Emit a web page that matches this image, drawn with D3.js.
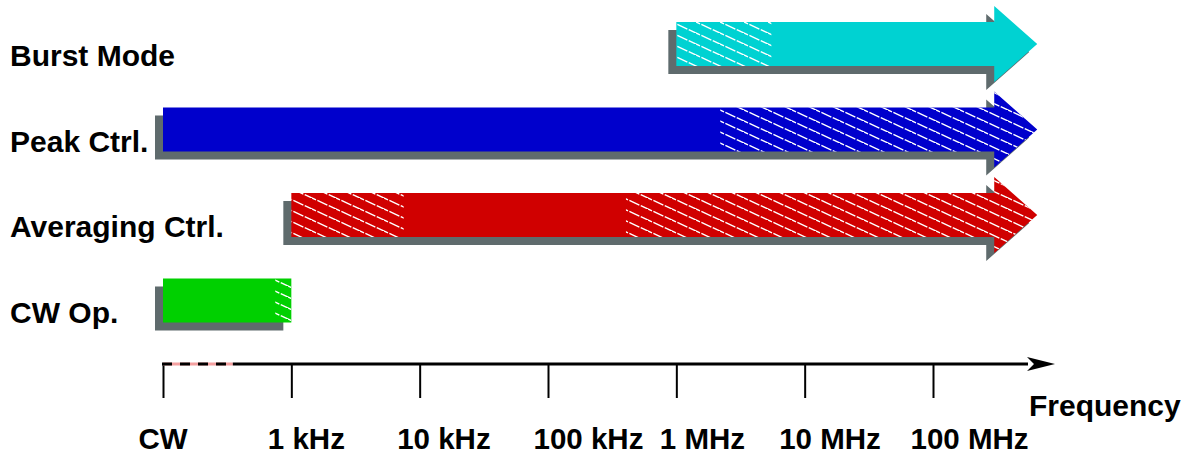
<!DOCTYPE html>
<html>
<head>
<meta charset="utf-8">
<script src="https://cdn.jsdelivr.net/npm/d3@7/dist/d3.min.js"></script>
<style>
  html, body { margin: 0; padding: 0; background: #fff; }
  svg { display: block; }
  text { font-family: "Liberation Sans", Arial, sans-serif; font-weight: bold; fill: #000; }
</style>
</head>
<body>
<svg id="chart" width="1189" height="455"></svg>
<script>
// ---------- data ----------
const categories   = ["Burst Mode", "Peak Ctrl.", "Averaging Ctrl.", "CW Op."];
const rangeStart   = [1e6, 1e2, 1e3, 1e2];          // Hz (1e2 = "CW")
const rangeEnd     = [3e8, 3e8, 3e8, 1e3];          // Hz
const openEnded    = [true, true, true, false];     // drawn with arrow head
const colors       = ["#00d2d2", "#0000cc", "#d00000", "#00d000"];
// hatched sub-ranges per row: [from, to] in Hz
const hatchRanges  = [
  [[1e6, 5.5e6]],
  [[2.2e6, 3e8]],
  [[1e3, 7.5e3], [4.05e5, 3e8]],
  [[7.5e2, 1e3]]
];
const tickValues   = [1e2, 1e3, 1e4, 1e5, 1e6, 1e7, 1e8];
const tickLabels   = ["CW", "1 kHz", "10 kHz", "100 kHz", "1 MHz", "10 MHz", "100 MHz"];
const axisTitle    = "Frequency";
const axisBreakEnd = 350;   // Hz, end of dashed (non-scaled) portion

// ---------- layout ----------
const svg = d3.select("#chart");
const x = d3.scaleLog().domain([1e2, 1e8]).range([163, 933]);
const y = d3.scalePoint().domain(categories).range([44, 300.5]);
const barH = 44, headLen = 43, headHalf = 38, shadowDx = -8, shadowDy = 8;
const axisY = 364;
const labelDx = [-25, -24, -23, -15, -17, -26, -23];

// hatch pattern
const defs = svg.append("defs");
const pat = defs.append("pattern")
  .attr("id", "hatch").attr("patternUnits", "userSpaceOnUse")
  .attr("width", 24).attr("height", 11);
pat.append("path")
  .attr("d", "M-6,-2.75 L30,13.75 M18,-13.75 L30,-8.25 M-6,8.25 L6,13.75")
  .attr("stroke", "#fff").attr("stroke-width", 1.4)
  .attr("stroke-dasharray", "11,1.5").attr("fill", "none");

function shapePath(i) {
  const x0 = x(rangeStart[i]), x1 = x(rangeEnd[i]);
  const c = y(categories[i]), t = c - barH / 2, b = c + barH / 2;
  if (!openEnded[i]) return `M${x0},${t}H${x1}V${b}H${x0}Z`;
  return `M${x0},${t}H${x1}V${c - headHalf}L${x1 + headLen},${c}L${x1},${c + headHalf}V${b}H${x0}Z`;
}

const rows = svg.append("g").attr("class", "rows");
categories.forEach((cat, i) => {
  const g = rows.append("g");
  const d = shapePath(i);
  g.append("path").attr("d", d).attr("fill", "#5f6b6d")
    .attr("transform", `translate(${shadowDx},${shadowDy})`);
  g.append("path").attr("d", d).attr("fill", colors[i]);
  hatchRanges[i].forEach((hr, k) => {
    const id = `clip-${i}-${k}`;
    const xa = x(hr[0]);
    let xb = x(hr[1]);
    if (openEnded[i] && hr[1] >= rangeEnd[i]) xb += headLen + 2;
    defs.append("clipPath").attr("id", id).append("rect")
      .attr("x", xa).attr("y", 0).attr("width", xb - xa).attr("height", 455);
    g.append("path").attr("d", d).attr("fill", "url(#hatch)")
      .attr("clip-path", `url(#${id})`);
  });
  svg.append("text").attr("x", 10).attr("y", y(cat) + 22)
    .attr("font-size", 30).text(cat);
});

// ---------- axis ----------
const axis = d3.axisBottom(x).tickValues(tickValues).tickSize(34)
  .tickFormat((d, i) => tickLabels[i]);
const ag = svg.append("g").attr("transform", `translate(0,${axisY})`).call(axis);
ag.select(".domain").remove();
ag.selectAll(".tick line").attr("stroke", "#000").attr("stroke-width", 2);
ag.selectAll(".tick text")
  .attr("text-anchor", "start")
  .attr("x", (d, i) => labelDx[i])
  .attr("y", 85).attr("dy", null)
  .attr("font-size", 29.5).attr("font-family", "Liberation Sans, Arial, sans-serif")
  .attr("font-weight", "bold").attr("fill", "#000");

// axis line: dashed break part + solid part + arrow
const xs = x(1e2), xbk = x(axisBreakEnd), xEnd = x.range()[1] + 95;
svg.append("line").attr("x1", xs).attr("x2", xbk).attr("y1", axisY).attr("y2", axisY)
  .attr("stroke", "#f4a0a0").attr("stroke-width", 3);
svg.append("line").attr("x1", xs - 1).attr("x2", xbk).attr("y1", axisY).attr("y2", axisY)
  .attr("stroke", "#000").attr("stroke-width", 3).attr("stroke-dasharray", "10,8");
svg.append("line").attr("x1", xbk).attr("x2", xEnd).attr("y1", axisY).attr("y2", axisY)
  .attr("stroke", "#000").attr("stroke-width", 3);
svg.append("path")
  .attr("d", `M${xEnd + 27},${axisY}L${xEnd - 1},${axisY - 7}L${xEnd + 6},${axisY}L${xEnd - 1},${axisY + 7}Z`)
  .attr("fill", "#000");
svg.append("text").attr("x", 1029).attr("y", 416).attr("font-size", 30).text(axisTitle);
</script>
</body>
</html>
